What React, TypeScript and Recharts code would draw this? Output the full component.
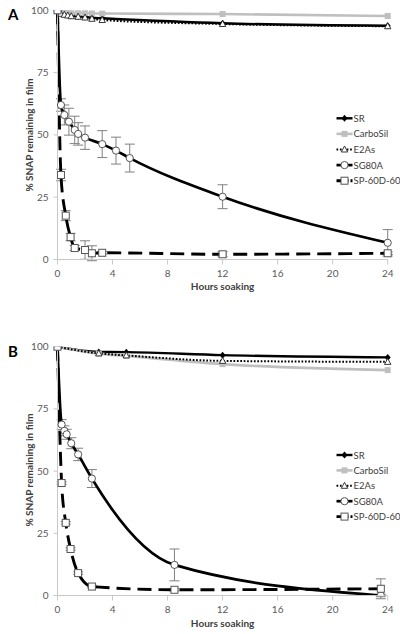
import React from "react";
import { LineChart, Line, XAxis, YAxis, ErrorBar } from "recharts";

const FONT = "Lato, 'Liberation Sans', sans-serif";
const X_TICKS = [0, 4, 8, 12, 16, 20, 24];
const Y_TICKS = [0, 25, 50, 75, 100];
const SERIES = ["SR", "CarboSil", "E2As", "SG80A", "SP-60D-60"];

// panel A (hours soaking / % SNAP remaining)
const A_FLAT_H = [0, 0.25, 0.5, 0.75, 1, 1.5, 2, 2.5, 3.25, 12, 24];
const A_SR = [100, 99, 98.6, 98.2, 97.9, 97.6, 97.3, 97, 96.8, 94.8, 93.8];
const A_CARBOSIL = [100, 99.5, 99.3, 99.2, 99.1, 99, 98.9, 98.8, 98.7, 98.5, 97.7];
const A_E2AS = [100, 98.6, 98.2, 97.9, 97.6, 97.4, 97.1, 96.6, 96.1, 94.5, 93.6];
const A_SG80A_H = [0, 0.25, 0.5, 0.83, 1.25, 1.5, 2, 3.25, 4.25, 5.25, 12, 24];
const A_SG80A = [100, 62, 58, 55.3, 52, 50.4, 48.9, 46.3, 43.7, 40.7, 25.2, 6.7];
const A_SG80A_ERR = [0, 2.5, 4, 5.4, 5.5, 4.5, 4.7, 5.4, 5.4, 5.6, 4.8, 5.3];
const A_SP_H = [0, 0.25, 0.6, 0.95, 1.25, 2, 2.5, 3.25, 12, 24];
const A_SP = [100, 33.9, 17.6, 9, 4.6, 3.8, 2.5, 2.7, 2.1, 2.5];
const A_SP_ERR = [0, 2.3, 2, 1.5, 1, 3.7, 3, 0.5, 1, 0.5];

// panel B
const B_FLAT_H = [0, 3, 5, 12, 24];
const B_SR = [100, 97.9, 97.8, 96.6, 95.7];
const B_CARBOSIL = [100, 97.2, 96.3, 93, 90.6];
const B_E2AS = [100, 97.3, 96.5, 94.3, 93.9];
const B_SG80A_H = [0, 0.3, 0.5, 0.67, 1, 1.5, 2.5, 8.5, 23.5];
const B_SG80A = [100, 68.7, 66.2, 64.8, 61.2, 56.7, 47, 12.3, 0];
const B_SG80A_ERR = [0, 2, 2, 2, 2.2, 2.5, 3.6, 6.4, 0.5];
const B_SP_H = [0, 0.3, 0.6, 0.95, 1.5, 2.5, 8.5, 23.5];
const B_SP = [100, 45.2, 29.2, 18.7, 9, 3.6, 2.3, 2.7];
const B_SP_ERR = [0, 0.5, 0.5, 0.5, 0.5, 0.5, 0.5, 4];

const pts = (hs: number[], vs: number[], es?: number[]) =>
  hs.map((h, i) => ({ h, v: vs[i], e: es ? es[i] : 0 }));

const GRAY = "#bfbfbf";
const AXIS_LINE = { stroke: "#c8c8c8" };
const TICK = { fontSize: 10, fill: "#595959", fontFamily: FONT };

type Kind = "diamond" | "gsquare" | "triangle" | "circle" | "square";

function Marker({ kind, cx, cy }: { kind: Kind; cx: number; cy: number }) {
  if (cx == null || cy == null) return null;
  switch (kind) {
    case "diamond":
      return <path d={`M${cx},${cy - 3.5}L${cx + 3},${cy}L${cx},${cy + 3.5}L${cx - 3},${cy}Z`} fill="#000" />;
    case "gsquare":
      return <rect x={cx - 3} y={cy - 3} width={6} height={6} fill={GRAY} />;
    case "triangle":
      return <path d={`M${cx},${cy - 3.5}L${cx + 3.2},${cy + 2.5}L${cx - 3.2},${cy + 2.5}Z`} fill="#fff" stroke="#222" strokeWidth={0.9} />;
    case "circle":
      return <circle cx={cx} cy={cy} r={3.6} fill="#fff" stroke="#555" strokeWidth={1} />;
    default:
      return <rect x={cx - 3.5} y={cy - 3.5} width={7} height={7} fill="#fff" stroke="#555" strokeWidth={1} />;
  }
}

const dotOf = (kind: Kind) => (p: any) => <Marker key={`${kind}-${p.index}`} kind={kind} cx={p.cx} cy={p.cy} />;

const STYLE: Record<string, { stroke: string; width: number; dash?: string; kind: Kind }> = {
  SR: { stroke: "#000", width: 2.4, kind: "diamond" },
  CarboSil: { stroke: GRAY, width: 2.6, kind: "gsquare" },
  E2As: { stroke: "#000", width: 2, dash: "1.7 1.7", kind: "triangle" },
  SG80A: { stroke: "#000", width: 2.7, kind: "circle" },
  "SP-60D-60": { stroke: "#000", width: 2.9, dash: "14 7", kind: "square" },
};

function Panel({ data, top }: { data: Record<string, { h: number; v: number; e: number }[]>; top: number }) {
  return (
    <div style={{ position: "absolute", left: 0, top }}>
      <LineChart width={400} height={295} margin={{ top: top === 0 ? 10.3 : 10.7, right: 12.3, bottom: 5.5, left: 0 }}>
        <XAxis
          type="number"
          dataKey="h"
          domain={[0, 24]}
          ticks={X_TICKS}
          height={30}
          tickSize={5}
          tickMargin={5}
          axisLine={AXIS_LINE}
          tickLine={AXIS_LINE}
          tick={TICK}
        />
        <YAxis
          type="number"
          dataKey="v"
          domain={[0, 100]}
          ticks={Y_TICKS}
          allowDataOverflow
          width={57.5}
          tickSize={4}
          tickMargin={5}
          axisLine={AXIS_LINE}
          tickLine={AXIS_LINE}
          tick={TICK}
        />
        {SERIES.map((name) => {
          const s = STYLE[name];
          const withErr = name === "SG80A" || name === "SP-60D-60";
          return (
            <Line
              key={name}
              data={data[name]}
              dataKey="v"
              type="monotone"
              stroke={s.stroke}
              strokeWidth={s.width}
              strokeDasharray={s.dash}
              dot={dotOf(s.kind)}
              activeDot={false}
              isAnimationActive={false}
            >
              {withErr && (
                <ErrorBar dataKey="e" direction="y" width={5} stroke="#808080" strokeWidth={1} isAnimationActive={false} />
              )}
            </Line>
          );
        })}
      </LineChart>
    </div>
  );
}

function LegendIcon({ name, x, y }: { name: string; x: number; y: number }) {
  const s = STYLE[name];
  return (
    <g>
      <line x1={x} y1={y} x2={x + 16} y2={y} stroke={s.stroke} strokeWidth={s.width} strokeDasharray={s.dash ? (name === "E2As" ? "1.7 1.7" : "5 2") : undefined} />
      <Marker kind={s.kind} cx={x + 8} cy={y} />
      <text x={x + 17} y={y} dominantBaseline="central" fontSize={9.5} fill="#404040" fontFamily={FONT}>
        {name}
      </text>
    </g>
  );
}

function Overlay() {
  const legendA = 118.3;
  const legendB = 455;
  return (
    <svg width={400} height={634} style={{ position: "absolute", left: 0, top: 0, pointerEvents: "none" }}>
      <text x={8} y={20} fontSize={15} fontWeight="bold" fontFamily={FONT} fill="#000">A</text>
      <text x={8} y={357} fontSize={15} fontWeight="bold" fontFamily={FONT} fill="#000">B</text>
      <text x={28.5} y={135} transform="rotate(-90 28.5 135)" textAnchor="middle" dominantBaseline="central" fontSize={10} fontWeight="bold" fill="#404040" fontFamily={FONT}>
        % SNAP remaining in film
      </text>
      <text x={28.5} y={470} transform="rotate(-90 28.5 470)" textAnchor="middle" dominantBaseline="central" fontSize={10} fontWeight="bold" fill="#404040" fontFamily={FONT}>
        % SNAP remaining in film
      </text>
      <text x={222.6} y={289.5} textAnchor="middle" fontSize={10} fontWeight="bold" fill="#404040" fontFamily={FONT}>Hours soaking</text>
      <text x={222.6} y={626.5} textAnchor="middle" fontSize={10} fontWeight="bold" fill="#404040" fontFamily={FONT}>Hours soaking</text>
      {SERIES.map((n, i) => (
        <LegendIcon key={`a-${n}`} name={n} x={336.5} y={legendA + i * 15.6} />
      ))}
      {SERIES.map((n, i) => (
        <LegendIcon key={`b-${n}`} name={n} x={336.5} y={legendB + i * 15.4} />
      ))}
    </svg>
  );
}

export default function App() {
  const dataA = {
    SR: pts(A_FLAT_H, A_SR),
    CarboSil: pts(A_FLAT_H, A_CARBOSIL),
    E2As: pts(A_FLAT_H, A_E2AS),
    SG80A: pts(A_SG80A_H, A_SG80A, A_SG80A_ERR),
    "SP-60D-60": pts(A_SP_H, A_SP, A_SP_ERR),
  };
  const dataB = {
    SR: pts(B_FLAT_H, B_SR),
    CarboSil: pts(B_FLAT_H, B_CARBOSIL),
    E2As: pts(B_FLAT_H, B_E2AS),
    SG80A: pts(B_SG80A_H, B_SG80A, B_SG80A_ERR),
    "SP-60D-60": pts(B_SP_H, B_SP, B_SP_ERR),
  };
  return (
    <div style={{ position: "absolute", left: 0, top: 0, width: 400, height: 634, background: "#fff", fontFamily: FONT }}>
      <Panel data={dataA} top={0} />
      <Panel data={dataB} top={336} />
      <Overlay />
    </div>
  );
}
